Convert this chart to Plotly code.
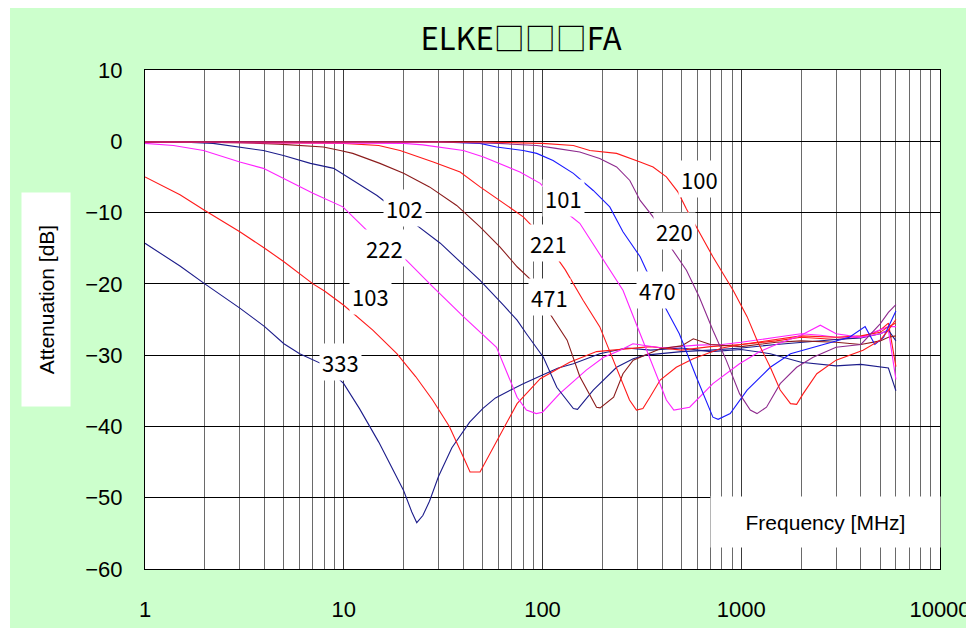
import math
import plotly.graph_objects as go

# ---------------- data (frequency in MHz, attenuation in dB) ----------------
f_333 = [1, 1.5, 2, 3, 4, 5, 6, 8, 10, 12, 15, 18, 20, 22, 23.3, 25, 27, 30, 35, 43, 50, 58, 70, 80, 100, 120, 143, 194, 265, 350, 500, 700, 1000, 1400, 2000, 3000, 4000, 5000, 5500, 6000]
a_333 = [-14.3, -17.5, -20, -23.4, -26, -28.4, -29.8, -31.4, -34, -37.5, -42.2, -46.5, -49, -52, -53.5, -52.5, -50.5, -47, -43, -39.4, -37.5, -36, -34.8, -34, -32.8, -31.8, -31.2, -29.8, -29, -29.3, -29, -29.5, -29.2, -29.8, -31, -31.5, -31.3, -31.6, -31.8, -35]

f_103 = [1, 1.5, 2, 3, 4, 5, 7, 8, 10, 14, 18.5, 23, 28, 34, 40.6, 43.2, 48.5, 56.7, 66, 74.5, 97.4, 137, 187, 250, 350, 500, 700, 1000, 1500, 2000, 3000, 4000, 5000, 5500, 6000]
a_103 = [-5, -7.5, -9.7, -12.7, -15, -16.9, -20, -21, -23, -26.5, -29.8, -33, -36.3, -40, -44.7, -46.4, -46.4, -42.9, -39.6, -36.8, -33.3, -31, -29.5, -29.2, -28.8, -29.3, -28.8, -28.5, -28, -27.5, -27.8, -27.5, -26.5, -25.5, -31.6]

f_222 = [1, 1.39, 1.97, 3, 3.94, 4.97, 7, 9.9, 11.1, 13.3, 16, 20.7, 28, 40, 58.7, 74.5, 83, 93, 100, 122, 166, 203, 246, 285, 400, 600, 800, 1000, 1500, 2000, 2500, 3000, 4000, 5000, 5500, 6000]
a_222 = [-0.3, -0.6, -1.3, -2.9, -3.8, -5.2, -7.3, -9.2, -10.6, -12.7, -14.5, -16.7, -20.4, -24.6, -28.9, -35.9, -37.7, -38.2, -38, -35.4, -32.1, -30.3, -29.3, -28.4, -29, -28.6, -28.5, -28.2, -27.5, -27, -27.2, -27.5, -27.5, -26.5, -26, -26]

f_102 = [1, 1.5, 2.2, 2.9, 3.94, 4.97, 6.8, 8.9, 11.1, 14.7, 18, 21.6, 30.6, 48.5, 63.6, 74.5, 83, 101, 118, 143, 150, 180, 236, 286, 330, 500, 700, 1000, 1500, 2000, 3000, 4000, 5000, 5500, 6000]
a_102 = [-0.1, -0.1, -0.3, -0.8, -1.3, -2, -3.1, -3.8, -5.5, -7.6, -9.5, -11.1, -14.3, -19.5, -23, -25.1, -27, -30.3, -34.5, -37.5, -37.6, -34.9, -31.7, -30.5, -30, -29.5, -29.3, -29, -28.5, -28.2, -27.8, -27.6, -27, -26.5, -28]

f_471 = [1, 3, 4.7, 6, 7.9, 9.6, 11.1, 15.2, 20, 27, 37, 48.5, 61, 74.5, 88, 100, 109, 133, 154, 187, 195, 228, 254, 286, 330, 391, 500, 574, 700, 1000, 1500, 2000, 3000, 4000, 5000, 5500, 6000]
a_471 = [-0.1, -0.2, -0.4, -0.6, -0.8, -1.3, -1.7, -3.1, -4.5, -6.4, -9, -12, -14.8, -17.6, -19.5, -21.8, -24.2, -27.9, -33, -37.3, -37.4, -35.9, -32.6, -30.7, -30, -29.1, -28.7, -27.7, -28.5, -28.8, -28.2, -28, -28.2, -28.5, -28, -27.5, -27.3]

f_221 = [1, 5, 10, 15, 19.2, 28.2, 38.5, 48.5, 66, 80, 88, 100, 130, 160, 194, 236, 274, 297, 320, 347, 391, 471, 573, 670, 800, 1000, 1500, 2000, 3000, 4000, 5000, 5500, 6000]
a_221 = [-0.1, -0.2, -0.3, -0.6, -1.3, -2.9, -4.3, -6.4, -9, -10.6, -11.8, -13.5, -18, -22.3, -26, -31.7, -36.3, -37.7, -37.5, -35.9, -33.5, -31.7, -30.5, -29.8, -29, -28.5, -27.8, -27.3, -27.5, -27.3, -26.8, -26, -25.5]

f_101 = [1, 10, 20, 25, 30.5, 40, 50.5, 63.6, 77, 97.4, 110, 133, 154, 203, 254, 296, 360, 420, 458, 550, 720, 980, 1240, 1500, 2000, 2500, 3000, 4000, 5000, 5500, 6000]
a_101 = [-0.1, -0.2, -0.3, -0.5, -0.8, -1.3, -2.2, -3.4, -4.3, -5.9, -7.5, -10.1, -11.5, -16.7, -20.9, -25.6, -31.7, -36.3, -37.7, -37.3, -34, -31.2, -29.5, -28.5, -27.2, -25.8, -27, -27.5, -27, -26.5, -33.4]

f_470 = [1, 20, 30.5, 48.5, 58.7, 80, 93.5, 113, 143, 180, 218, 254, 310, 333, 370, 405, 488, 593, 720, 765, 880, 1070, 1400, 1770, 2300, 3000, 3500, 4200, 4700, 5200, 6000]
a_470 = [-0.1, -0.1, -0.1, -0.3, -0.8, -1.3, -1.7, -2.7, -4.5, -6.9, -9.2, -12.7, -16.2, -18.1, -20.5, -22.8, -27, -33, -38.7, -39, -38.2, -34.9, -31.7, -29.8, -28.9, -28, -27.5, -26, -28.5, -27.5, -23.8]

f_220 = [1, 30, 60, 93.5, 117, 154, 194, 236, 275, 310, 360, 400, 440, 530, 614, 720, 840, 980, 1110, 1200, 1340, 1570, 1900, 2300, 3000, 4000, 5000, 5500, 6000]
a_220 = [-0.1, -0.1, -0.3, -0.6, -1, -1.5, -2.4, -3.6, -5.5, -8.3, -10.6, -12.5, -14.8, -18.1, -21.8, -26.5, -30.7, -35.4, -37.7, -38.2, -37.3, -34, -31.7, -30.3, -28.9, -28.5, -25.6, -24, -22.9]

f_100 = [1, 50, 100, 143, 173, 236, 310, 360, 420, 480, 530, 593, 720, 910, 1070, 1200, 1400, 1570, 1770, 1900, 2050, 2400, 3000, 4100, 5000, 5500, 6000]
a_100 = [-0.1, -0.1, -0.3, -0.6, -1.3, -1.7, -2.9, -3.6, -5, -7.1, -9.5, -12, -16.2, -20.9, -24.6, -27.9, -31.7, -34.9, -36.8, -36.9, -35.4, -32.6, -30.7, -29.3, -27.9, -26.5, -25]

series_names = ["333", "103", "222", "102", "471", "221", "101", "470", "220", "100"]
series_freq = [f_333, f_103, f_222, f_102, f_471, f_221, f_101, f_470, f_220, f_100]
series_att = [a_333, a_103, a_222, a_102, a_471, a_221, a_101, a_470, a_220, a_100]

x_tick_vals = [1, 10, 100, 1000, 10000]
x_tick_text = ["1", "10", "100", "1000", "10000"]
y_tick_vals = [10, 0, -10, -20, -30, -40, -50, -60]

# ---------------- styles ----------------
colors = {
    "333": "#1c1c8a", "103": "#ff1a1a", "222": "#ff22ff", "102": "#1c1c8a",
    "471": "#8b1c1c", "221": "#ff1a1a", "101": "#ff22ff", "470": "#1a1aff",
    "220": "#8e2a8e", "100": "#ff1a1a",
}
# label positions (frequency MHz, dB)
label_pos = {
    "100": (614, -5.3), "220": (459, -12.6), "470": (377, -20.8),
    "101": (127, -8.0), "221": (107, -14.3), "471": (109, -21.9),
    "102": (20.3, -9.3), "222": (16.1, -15.0), "103": (13.7, -21.7),
    "333": (9.58, -31.0),
}

fig = go.Figure()
for name, fx, ay in zip(series_names, series_freq, series_att):
    fig.add_trace(go.Scatter(x=fx, y=ay, mode="lines", name=name,
                             line=dict(color=colors[name], width=1.1),
                             hoverinfo="skip"))

annotations = []
for name in series_names:
    fx, ay = label_pos[name]
    annotations.append(dict(x=math.log10(fx), y=ay, xref="x", yref="y",
                            xanchor="center", yanchor="middle",
                            text=name, showarrow=False, bgcolor="white",
                            borderpad=2,
                            font=dict(family="Noto Sans CJK JP", size=22, color="black")))

# page is offset by the default 8px body margin
OFF = 8
W, H = 974, 628
L, R, T, B = 145 - OFF, 34 + OFF, 70 - OFF, 59 + OFF
pw, ph = W - L - R, H - T - B
def px(xwin):
    return (xwin - OFF - L) / pw
def py(ywin):
    return (H - B - (ywin - OFF)) / ph

# axis titles in white boxes
annotations.append(dict(x=px(46), y=py(300), xref="paper", yref="paper",
                        xanchor="center", yanchor="middle",
                        text="Attenuation [dB]", textangle=-90, showarrow=False,
                        bgcolor="white", width=209, height=44, borderpad=2,
                        font=dict(family="Liberation Sans", size=21, color="black")))
annotations.append(dict(x=px(825.5), y=py(522), xref="paper", yref="paper",
                        xanchor="center", yanchor="middle",
                        text="Frequency [MHz]", showarrow=False,
                        bgcolor="white", width=225, height=46, borderpad=2,
                        font=dict(family="Liberation Sans", size=21, color="black")))

fig.update_layout(
    width=W, height=H,
    margin=dict(l=L, r=R, t=T, b=B, autoexpand=False),
    paper_bgcolor="#ccffcc",
    plot_bgcolor="white",
    showlegend=False,
    hovermode=False,
    title=dict(text="ELKE□□□FA", xref="container", yref="container",
               x=(521 - OFF) / W, y=1 - (39 - OFF) / H,
               xanchor="center", yanchor="middle",
               font=dict(family="Noto Sans CJK JP", size=31, color="black")),
    annotations=annotations,
    shapes=[
        dict(type="rect", xref="paper", yref="paper", x0=px(-5), x1=px(10),
             y0=py(H + 20), y1=py(-5), fillcolor="white", line=dict(width=0), layer="below"),
    ],
)

fig.update_xaxes(
    type="log", range=[0, 4], automargin=False,
    tickvals=x_tick_vals, ticktext=x_tick_text,
    showgrid=True, gridcolor="#3a3a3a", gridwidth=1.2,
    minor=dict(dtick="D1", showgrid=True, gridcolor="#6a6a6a", gridwidth=1.2, ticks=""),
    showline=True, linecolor="black", linewidth=1, mirror=True,
    ticks="", ticklabelstandoff=21,
    tickfont=dict(family="Liberation Sans", size=22, color="black"),
    zeroline=False,
)
fig.update_yaxes(
    range=[-60, 10], tickvals=y_tick_vals, automargin=False,
    showgrid=True, gridcolor="black", gridwidth=1,
    showline=True, linecolor="black", linewidth=1, mirror=True,
    ticks="", ticklabelstandoff=17,
    tickfont=dict(family="Liberation Sans", size=22, color="black"),
    zeroline=False,
)

fig.write_html("out.html")
